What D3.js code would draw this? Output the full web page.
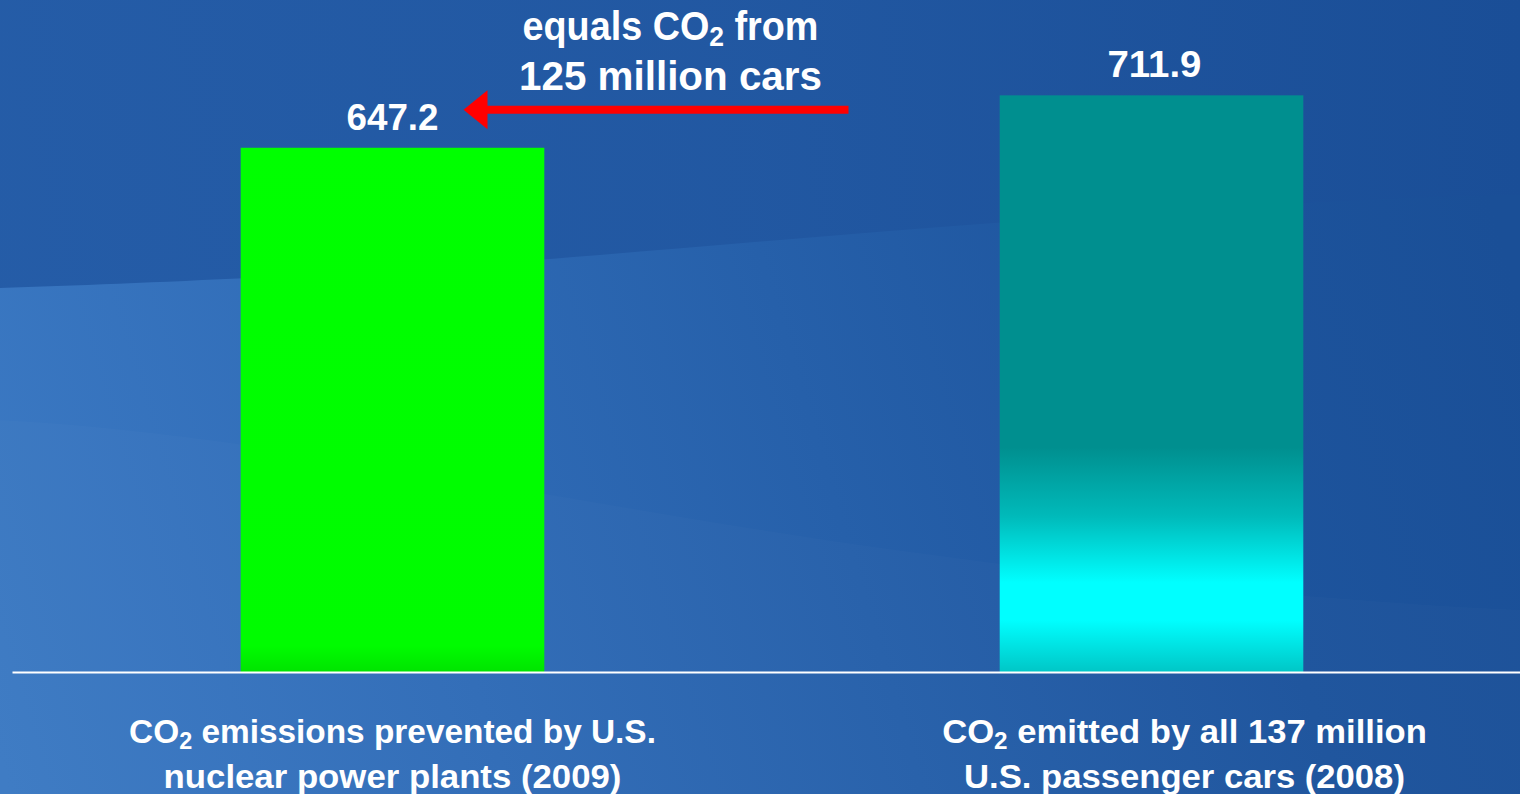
<!DOCTYPE html>
<html>
<head>
<meta charset="utf-8">
<script src="https://cdn.jsdelivr.net/npm/d3@7"></script>
<style>
  html, body { margin: 0; padding: 0; background: #2259a3; overflow: hidden; }
  svg { display: block; }
  text { font-family: "Liberation Sans", Arial, sans-serif; font-weight: bold; fill: #ffffff; }
</style>
</head>
<body>
<svg id="chart" width="1520" height="794"></svg>
<script>
// ---- data ----
const categories = ["nuclear", "cars"];
const values = [647.2, 711.9];
const valueLabels = ["647.2", "711.9"];
const categoryLines = [
  [["CO", "2", " emissions prevented by U.S."], ["nuclear power plants (2009)"]],
  [["CO", "2", " emitted by all 137 million"], ["U.S. passenger cars (2008)"]]
];
const annotationLines = [["equals CO", "2", " from"], ["125 million cars"]];

// ---- layout ----
const W = 1520, H = 794;
const svg = d3.select("#chart");
const defs = svg.append("defs");

const x = d3.scaleBand().domain(categories).range([13, 1531]).paddingInner(0.6).paddingOuter(0.3);
const y = d3.scaleLinear().domain([0, 800]).range([672, 24]);

// background
const bg = defs.append("linearGradient").attr("id", "bg")
  .attr("gradientUnits", "userSpaceOnUse")
  .attr("x1", 0).attr("y1", 760).attr("x2", 1520).attr("y2", 300);
[[0, "#3c7ac4"], [0.3, "#306cb7"], [0.55, "#2660aa"], [0.8, "#1d549d"], [1, "#1a4f97"]]
  .forEach(([o, c]) => bg.append("stop").attr("offset", o).attr("stop-color", c));
svg.append("rect").attr("width", W).attr("height", H).attr("fill", "url(#bg)");

// darker band at top (wave edge)
const tb = defs.append("linearGradient").attr("id", "topband")
  .attr("gradientUnits", "userSpaceOnUse")
  .attr("x1", 0).attr("y1", 0).attr("x2", 1520).attr("y2", 0);
[[0, "#235aa5"], [0.5, "#2157a1"], [1, "#1a4e97"]]
  .forEach(([o, c]) => tb.append("stop").attr("offset", o).attr("stop-color", c));
svg.append("path")
  .attr("d", "M0,0 L1520,0 L1520,195 C1250,200 900,230 600,255 C350,275 150,283 0,288 Z")
  .attr("fill", "url(#topband)").attr("opacity", 0.92);
svg.append("path")
  .attr("d", "M0,420 C200,430 400,470 700,520 C1000,570 1300,600 1520,610 L1520,794 L0,794 Z")
  .attr("fill", "#ffffff").attr("opacity", 0.015);

// bar gradients
const g1 = defs.append("linearGradient").attr("id", "gGreen").attr("x1", 0).attr("y1", 0).attr("x2", 0).attr("y2", 1);
[[0, "#00ff00"], [0.95, "#00fc00"], [1, "#00e400"]]
  .forEach(([o, c]) => g1.append("stop").attr("offset", o).attr("stop-color", c));
const g2 = defs.append("linearGradient").attr("id", "gTeal").attr("x1", 0).attr("y1", 0).attr("x2", 0).attr("y2", 1);
[[0, "#008f8f"], [0.61, "#008f8f"], [0.73, "#00baba"], [0.845, "#00ffff"], [0.91, "#00ffff"], [1, "#00c6c6"]]
  .forEach(([o, c]) => g2.append("stop").attr("offset", o).attr("stop-color", c));
const fills = ["url(#gGreen)", "url(#gTeal)"];

// bars
svg.selectAll("rect.bar").data(categories).join("rect")
  .attr("class", "bar")
  .attr("x", d => x(d))
  .attr("width", x.bandwidth())
  .attr("y", (d, i) => y(values[i]))
  .attr("height", (d, i) => y(0) - y(values[i]))
  .attr("fill", (d, i) => fills[i]);

// baseline axis
const axisG = svg.append("g").attr("transform", `translate(0,${y(0)})`)
  .call(d3.axisBottom(d3.scaleLinear().range([12, 1520])).ticks(0).tickSize(0).tickFormat(""));
axisG.select(".domain").attr("stroke", "#ffffff").attr("stroke-width", 2);

// helper to add text with subscript parts, then fit width
function addText(parts, cx, baseline, size, targetW, subShift) {
  const sh = subShift == null ? 0.2 : subShift;
  const t = svg.append("text").attr("x", cx).attr("y", baseline)
    .attr("text-anchor", "middle").style("font-size", size + "px");
  if (typeof parts === "string") parts = [parts];
  parts.forEach((p, k) => {
    const sub = parts.length === 3 && k === 1;
    t.append("tspan").text(p)
      .attr("dy", sub ? size * sh : (k === 2 ? -size * sh : 0))
      .style("font-size", sub ? (size * 0.7) + "px" : null);
  });
  const w = t.node().getComputedTextLength();
  const s = targetW / w;
  t.attr("transform", `translate(${cx},0) scale(${s},1) translate(${-cx},0)`);
  return t;
}

// value labels
const valWidths = [92, 94];
categories.forEach((c, i) => {
  addText(valueLabels[i], x(c) + x.bandwidth() / 2 + i * 3, y(values[i]) - 18, 37, valWidths[i]);
});

// category labels
const catOffsets = [0, 33];
const catWidths = [[527, 458], [485, 441]];
categories.forEach((c, i) => {
  const cx = x(c) + x.bandwidth() / 2 + catOffsets[i];
  categoryLines[i].forEach((line, j) => {
    addText(line.length === 1 ? line[0] : line, cx, 743 + j * 45, 34, catWidths[i][j], 0.18);
  });
});

// annotation
const cx0 = x(categories[0]) + x.bandwidth() / 2;
const annCx = cx0 + 278;
addText(annotationLines[0], annCx, 40, 40, 296, 0.15);
addText(annotationLines[1][0], annCx, 90, 40, 303);

// red arrow
const arrowY = y(values[0]) - 38;
const tipX = cx0 + 71, endX = cx0 + 456;
svg.append("line").attr("x1", tipX + 20).attr("x2", endX)
  .attr("y1", arrowY).attr("y2", arrowY)
  .attr("stroke", "#ff0000").attr("stroke-width", 8);
svg.append("path")
  .attr("d", `M${tipX},${arrowY} L${tipX + 24},${arrowY - 19.5} L${tipX + 24},${arrowY + 19.5} Z`)
  .attr("fill", "#ff0000");
</script>
</body>
</html>
